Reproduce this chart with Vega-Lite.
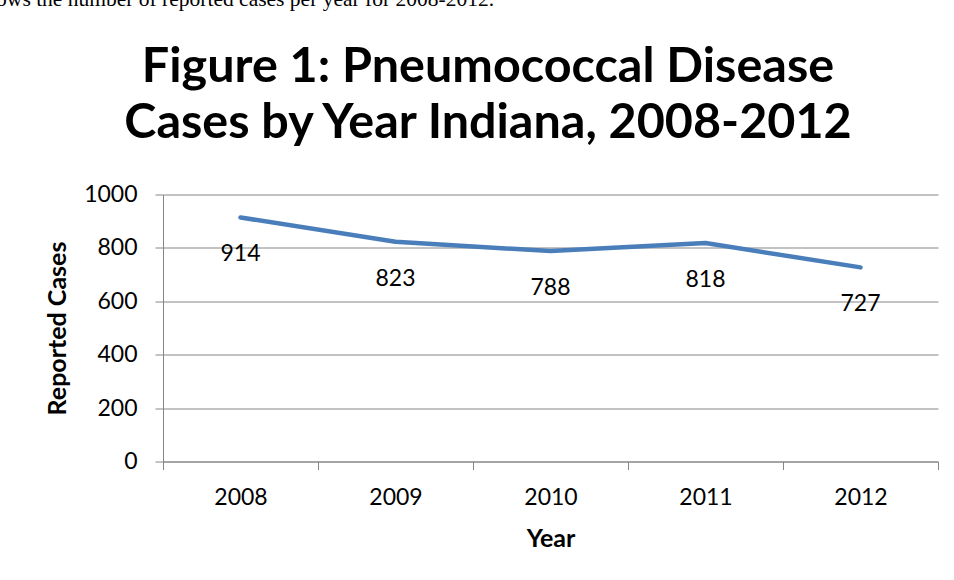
{
  "$schema": "https://vega.github.io/schema/vega-lite/v6.json",
  "autosize": "none",
  "width": 775,
  "height": 267,
  "padding": {"left": 163, "top": 194.5, "right": 16, "bottom": 118.5},
  "background": "white",
  "title": {
    "text": "shows the number of reported cases per year for 2008-2012.",
    "font": "Liberation Serif, serif",
    "fontSize": 21.5,
    "fontWeight": "normal",
    "color": "black",
    "anchor": "start",
    "frame": "group",
    "baseline": "bottom",
    "dx": -186,
    "offset": 10
  },
  "data": {
    "values": [
      {"Year": "2008", "Cases": 914},
      {"Year": "2009", "Cases": 823},
      {"Year": "2010", "Cases": 788},
      {"Year": "2011", "Cases": 818},
      {"Year": "2012", "Cases": 727}
    ]
  },
  "config": {
    "view": {"stroke": null},
    "axis": {
      "domainColor": "#868686",
      "tickColor": "#868686",
      "gridColor": "#868686",
      "labelFont": "Lato",
      "labelFontSize": 23,
      "labelColor": "black",
      "titleFont": "Lato",
      "titleFontSize": 25,
      "titleFontWeight": "bold",
      "titleColor": "black"
    }
  },
  "resolve": {"axis": {"x": "independent"}},
  "layer": [
    {
      "mark": {"type": "line", "color": "#4A7EBB", "strokeWidth": 4.5, "interpolate": "linear", "strokeCap": "round", "strokeJoin": "round"},
      "encoding": {
        "x": {
          "field": "Year",
          "type": "ordinal",
          "scale": {"paddingInner": 0, "paddingOuter": 0},
          "axis": {
            "title": "Year",
            "titleFont": "Lato",
            "titleFontSize": 25,
            "titleFontWeight": "bold",
            "labelAngle": 0,
            "tickBand": "extent",
            "tickSize": 8,
            "labelPadding": 17,
            "titlePadding": 17,
            "grid": false
          }
        },
        "y": {
          "field": "Cases",
          "type": "quantitative",
          "scale": {"domain": [0, 1000], "nice": false},
          "axis": {
            "title": "Reported Cases",
            "titleFont": "Lato, sans-serif",
            "titleFontSize": 25,
            "titleFontWeight": "bold",
            "format": "d",
            "values": [0, 200, 400, 600, 800, 1000],
            "tickSize": 8,
            "labelPadding": 18,
            "titlePadding": 13,
            "grid": true
          }
        }
      }
    },
    {
      "mark": {"type": "text", "font": "Lato", "fontSize": 23, "color": "black", "baseline": "alphabetic", "dy": 44},
      "encoding": {
        "x": {
          "field": "Year",
          "type": "ordinal",
          "axis": {
            "orient": "top",
            "labels": false,
            "ticks": false,
            "domain": false,
            "grid": false,
            "title": ["Figure 1: Pneumococcal Disease", "Cases by Year Indiana, 2008-2012"],
            "titleFont": "Lato",
            "titleFontSize": 48.5,
            "titleFontWeight": "bold",
            "titleColor": "black",
            "titleLineHeight": 56,
            "titleAlign": "center",
            "titleBaseline": "top",
            "titleX": 324.5,
            "titleY": -150.8
          }
        },
        "y": {"field": "Cases", "type": "quantitative"},
        "text": {"field": "Cases", "type": "quantitative"}
      }
    }
  ]
}
